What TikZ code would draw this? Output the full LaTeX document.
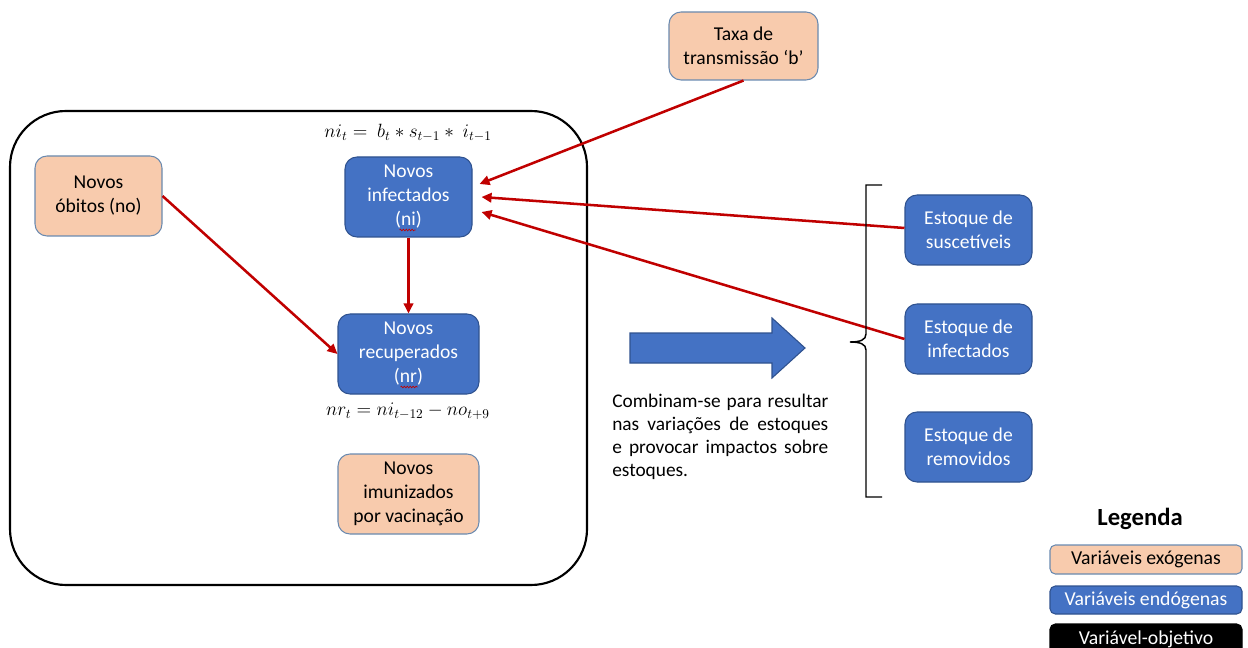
\documentclass[tikz,border=0pt]{standalone}
\usepackage{fontspec}
\setmainfont{Carlito}
\usetikzlibrary{arrows.meta,calc,decorations.pathmorphing}
\definecolor{peach}{HTML}{F8CBAD}
\definecolor{peachline}{HTML}{6A8AB0}
\definecolor{mblue}{HTML}{4472C4}
\definecolor{mblueline}{HTML}{2F528F}
\definecolor{mred}{HTML}{C00000}
\def\u{0.75pt}
\tikzset{
  exo/.style={draw=peachline, fill=peach, line width=0.8pt, rounded corners=9pt, align=center,
    text=black, font=\fontsize{14.7}{18}\selectfont, inner sep=0pt},
  endo/.style={draw=mblueline, fill=mblue, line width=0.8pt, rounded corners=9pt, align=center,
    text=white, font=\fontsize{14.7}{18}\selectfont, inner sep=0pt},
  leg/.style={line width=0.8pt, rounded corners=4pt, align=center, inner sep=0pt,
    minimum width=192*\u, font=\fontsize{14.8}{17}\selectfont},
  link/.style={draw=mred, line width=1.9pt, -{Triangle[length=7.5pt,width=7pt]}},
  squig/.style={draw=mred, line width=0.5pt, decorate, decoration={snake, segment length=2.2pt, amplitude=0.6pt}},
  eqn/.style={font=\fontsize{14.5}{17}\selectfont, inner sep=0pt}
}
\begin{document}
\begin{tikzpicture}[x=0.75pt,y=-0.75pt]
\useasboundingbox (0,0) rectangle (1248,648);
\clip (0,0) rectangle (1248,648);
% big frame
\draw[line width=1.6pt, rounded corners=42pt] (10,111) rectangle (587,585);
% nodes
\node[exo, minimum width=127*\u, minimum height=80*\u] (no) at (98.5,196) {Novos\\óbitos (no)};
\node[endo, minimum width=127*\u, minimum height=80*\u] (ni) at (408.5,197) {Novos\\infectados\\(ni)};
\node[endo, minimum width=141*\u, minimum height=80*\u] (nr) at (408.5,354) {Novos\\recuperados\\(nr)};
\node[exo, minimum width=141*\u, minimum height=80*\u] (imu) at (408.5,494) {Novos\\imunizados\\por vacinação};
\node[exo, minimum width=149*\u, minimum height=68*\u] (taxa) at (743.5,46) {Taxa de\\transmissão ‘b’};
\node[endo, minimum width=127*\u, minimum height=70*\u] (es) at (968.5,230) {Estoque de\\suscetíveis};
\node[endo, minimum width=127*\u, minimum height=70*\u] (ei) at (968.5,339) {Estoque de\\infectados};
\node[endo, minimum width=127*\u, minimum height=70*\u] (er) at (968.5,447) {Estoque de\\removidos};
% equations
\node[eqn] (eq1) at (408,133) {$ni_t =\ b_t * s_{t-1} *\ i_{t-1}$};
\node[eqn] (eq2) at (408,411) {$nr_t = ni_{t-12} - no_{t+9}$};
% spell-check squiggles
\draw[squig] ($(ni.center)+(-9,33)$) -- ($(ni.center)+(7,33)$);
\draw[squig] ($(nr.center)+(-8,33)$) -- ($(nr.center)+(9,33)$);
% connectors
\draw[link] (taxa.south) -- ($(ni.east)+(7,-13)$);
\draw[link] ($(es.west)+(0,-2)$) -- ($(ni.east)+(9,0)$);
\draw[link] (ei.west) -- ($(ni.east)+(9,15)$);
\draw[link] (ni.south) -- (nr.north);
\draw[link] (no.east) -- (nr.west);
% big arrow
\draw[draw=mblueline, fill=mblue, line width=0.8pt] (630,333) -- (772,333) -- (772,318) -- (805,348) -- (772,378) -- (772,363) -- (630,363) -- cycle;
% text
\node[anchor=north west, text width=162pt, align=justify, inner sep=0pt,
  font=\fontsize{14.5}{17.3}\selectfont] (txt) at (612,394)
  {Combinam-se para resultar\linebreak nas variações de estoques\linebreak e provocar impactos sobre\linebreak estoques.};
% brace
\draw[line width=1.1pt] (882,185) -- (866,185) -- (866,334) .. controls (866,340) and (860,342) .. (850,342)
  .. controls (860,342) and (866,344) .. (866,350) -- (866,497) -- (882,497);
% legend
\node[font=\bfseries\fontsize{18.5}{21}\selectfont] (legt) at (1140,519) {Legenda};
\node[leg, draw=peachline, fill=peach, minimum height=29*\u] (l1) at (1146,559.5) {Variáveis exógenas};
\node[leg, draw=mblueline, fill=mblue, text=white, minimum height=28*\u] (l2) at (1146,600) {Variáveis endógenas};
\node[leg, draw=black, fill=black, text=white, minimum height=30*\u] (l3) at (1146,639) {Variável-objetivo};
\end{tikzpicture}
\end{document}
